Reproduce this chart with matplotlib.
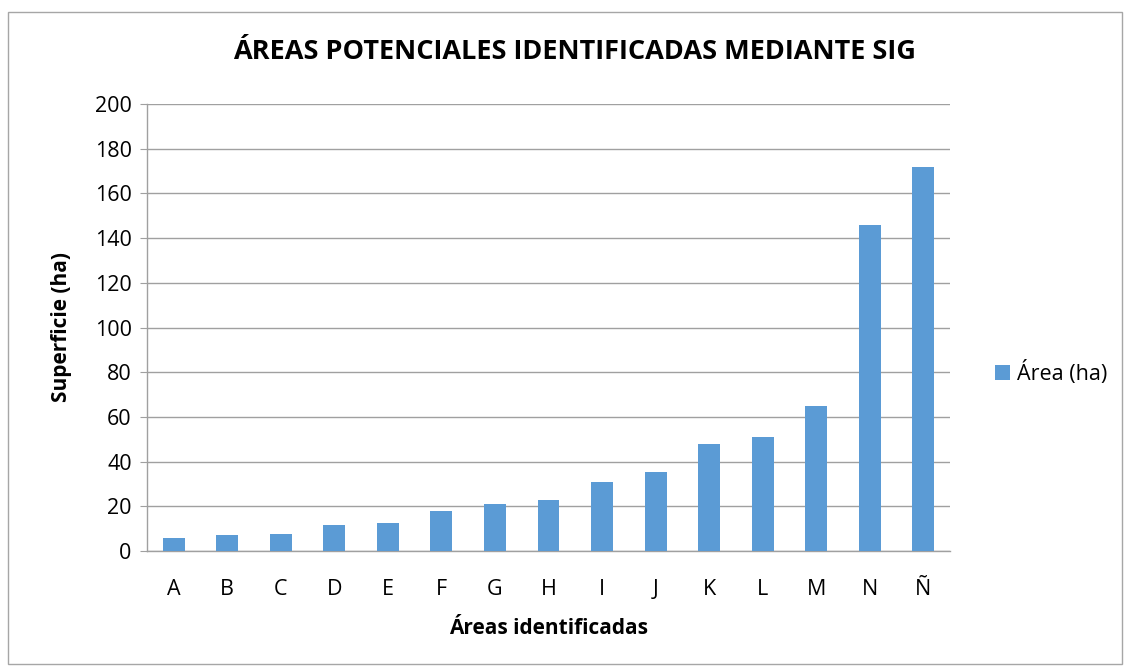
import matplotlib
matplotlib.use("Agg")
import matplotlib.pyplot as plt
from matplotlib.patches import Rectangle

categories = ["A", "B", "C", "D", "E", "F", "G", "H", "I", "J", "K", "L", "M", "N", "Ñ"]
values = [5.7, 7.2, 7.6, 11.6, 12.4, 17.9, 20.9, 22.8, 31.0, 35.2, 47.9, 51.0, 65.0, 146.0, 172.0]
yticks = [0, 20, 40, 60, 80, 100, 120, 140, 160, 180, 200]

plt.rcParams['font.family'] = ['Open Sans', 'DejaVu Sans']

W, H = 1130, 667
fig = plt.figure(figsize=(W / 100, H / 100), dpi=100)
fig.patch.set_facecolor("white")

# outer border
fig.patches.append(Rectangle((8 / W, 1 - 664 / H), (1122 - 8) / W, (664 - 12) / H,
                             transform=fig.transFigure, fill=False,
                             edgecolor="#a6a6a6", linewidth=1))

left, right, top, bottom = 147, 950, 104, 551
ax = fig.add_axes([left / W, 1 - bottom / H, (right - left) / W, (bottom - top) / H])

x = list(range(len(categories)))
ax.bar(x, values, width=0.41, color="#5B9BD5", label="Área (ha)", zorder=3)

ax.set_xlim(-0.5, len(categories) - 0.5)
ax.set_ylim(0, 200)
ax.set_yticks(yticks)
ax.set_xticks(x)
ax.set_xticklabels(categories)
ax.grid(axis="y", color="#a0a0a0", linewidth=1, zorder=0)
for s in ["top", "right"]:
    ax.spines[s].set_visible(False)
ax.spines["left"].set_color("#a0a0a0")
ax.spines["bottom"].set_color("#a0a0a0")
ax.spines["left"].set_linewidth(1)
ax.spines["bottom"].set_linewidth(1)
ax.tick_params(axis="y", length=5, color="#a0a0a0", labelsize=15.5, pad=6)
ax.tick_params(axis="x", length=0, labelsize=15.5, pad=20)

ax.set_ylabel("Superficie (ha)", fontsize=15, fontweight="bold", labelpad=16)
ax.set_xlabel("Áreas identificadas", fontsize=15, fontweight="bold", labelpad=13)

fig.text(574 / W, 1 - 52 / H, "ÁREAS POTENCIALES IDENTIFICADAS MEDIANTE SIG",
         ha="center", va="center", fontsize=19.5, fontweight="bold")

fig.legend(loc="center left", bbox_to_anchor=(976 / W, 1 - 373 / H), frameon=False,
           fontsize=15.5, handlelength=0.7, handleheight=0.7, handletextpad=0.3)

fig.savefig("out.png", dpi=100)
